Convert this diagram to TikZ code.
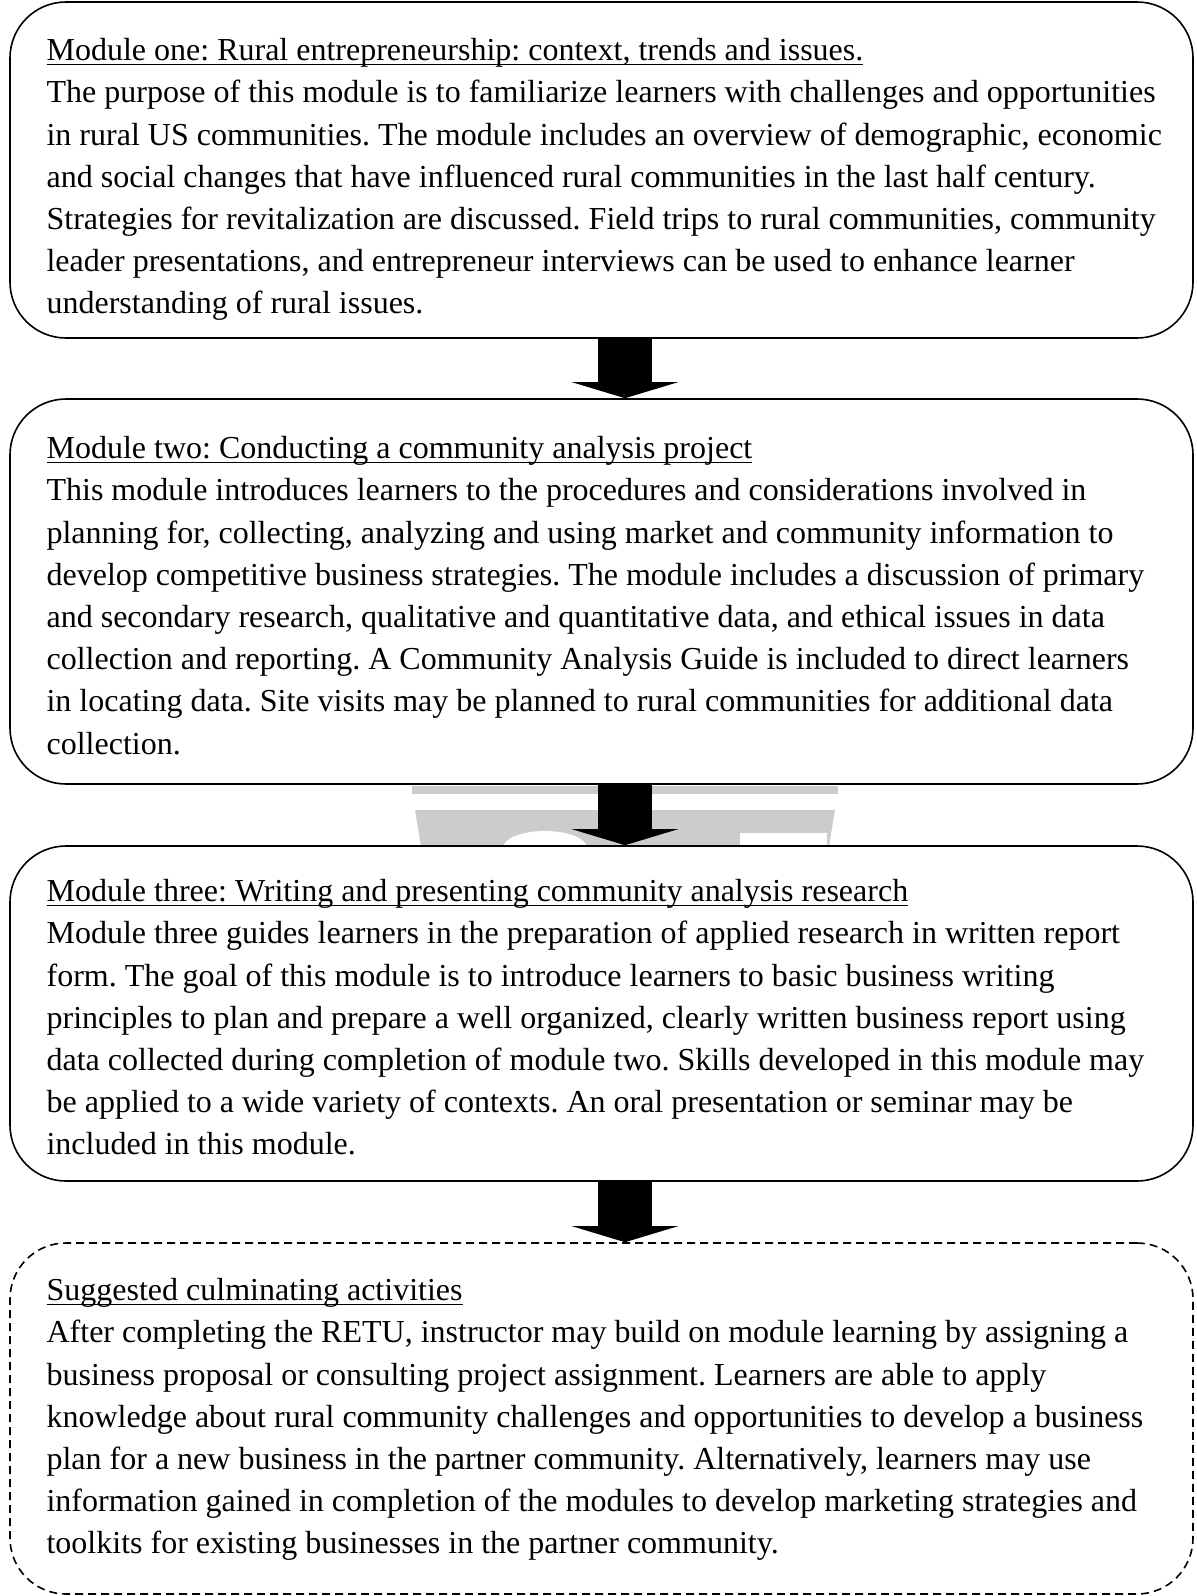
\documentclass[tikz,border=0pt]{standalone}
\usepackage{fontspec}
\setmainfont{Liberation Serif}
\usepackage{tikz}
\usetikzlibrary{arrows.meta,calc}
\newcommand{\undl}[1]{\setbox0=\hbox{#1}\rlap{\rule[-2.2pt]{\wd0}{0.7pt}}\box0}
\frenchspacing

\begin{document}
\begin{tikzpicture}[x=0.5pt,y=-0.5pt,
  module/.style={draw=black,line width=0.8pt,fill=white,rounded corners=28pt,inner sep=0pt,minimum width=591.5pt},
  body/.style={anchor=north west,inner sep=0pt,align=left,font=\fontsize{16}{21.1}\selectfont},
  down/.style={line width=27pt,-{Triangle[width=53pt,length=8pt,line width=0pt]}}]
\useasboundingbox (0,0) rectangle (1196,1596);
% faint logo behind the boxes
\fill[black!20] (412,786) rectangle (838,794);
\fill[black!20] (415,810) -- (835,810) -- (825,870) -- (425,870) -- cycle;
\fill[white] (545,848) ellipse [x radius=42, y radius=17];
\fill[white] (740,833) rectangle (827,870);

\node[module,minimum height=168pt] (A) at (601.5,170) {};
\node[module,minimum height=192.5pt] (B) at (601.5,591.5) {};
\node[module,minimum height=167.5pt] (C) at (601.5,1013.5) {};
\node[module,dashed,dash pattern=on 4pt off 2.5pt,minimum height=175.5pt] (D) at (601.5,1418.5) {};

\node[body] (a) at ($(A.north west)+(37,35)$) {\rule{0pt}{12pt}\undl{Module one: Rural entrepreneurship: context, trends and issues.}\\
The purpose of this module is to familiarize learners with challenges and opportunities\\
in rural US communities. The module includes an overview of demographic, economic\\
and social changes that have influenced rural communities in the last half century.\\
Strategies for revitalization are discussed. Field trips to rural communities, community\\
leader presentations, and entrepreneur interviews can be used to enhance learner\\
understanding of rural issues.};
\node[body] (b) at ($(B.north west)+(37,36)$) {\rule{0pt}{12pt}\undl{Module two: Conducting a community analysis project}\\
This module introduces learners to the procedures and considerations involved in\\
planning for, collecting, analyzing and using market and community information to\\
develop competitive business strategies. The module includes a discussion of primary\\
and secondary research, qualitative and quantitative data, and ethical issues in data\\
collection and reporting. A Community Analysis Guide is included to direct learners\\
in locating data. Site visits may be planned to rural communities for additional data\\
collection.};
\node[body] (c) at ($(C.north west)+(37,32)$) {\rule{0pt}{12pt}\undl{Module three: Writing and presenting community analysis research}\\
Module three guides learners in the preparation of applied research in written report\\
form. The goal of this module is to introduce learners to basic business writing\\
principles to plan and prepare a well organized, clearly written business report using\\
data collected during completion of module two. Skills developed in this module may\\
be applied to a wide variety of contexts. An oral presentation or seminar may be\\
included in this module.};
\node[body] (d) at ($(D.north west)+(37,34)$) {\rule{0pt}{12pt}\undl{Suggested culminating activities}\\
After completing the RETU, instructor may build on module learning by assigning a\\
business proposal or consulting project assignment. Learners are able to apply\\
knowledge about rural community challenges and opportunities to develop a business\\
plan for a new business in the partner community. Alternatively, learners may use\\
information gained in completion of the modules to develop marketing strategies and\\
toolkits for existing businesses in the partner community.};

\coordinate (ax) at (625,0);
\draw[down] (A.south -| ax) -- (B.north -| ax);
\draw[down] (B.south -| ax) -- (C.north -| ax);
\draw[down] (C.south -| ax) -- (D.north -| ax);
\end{tikzpicture}
\end{document}
